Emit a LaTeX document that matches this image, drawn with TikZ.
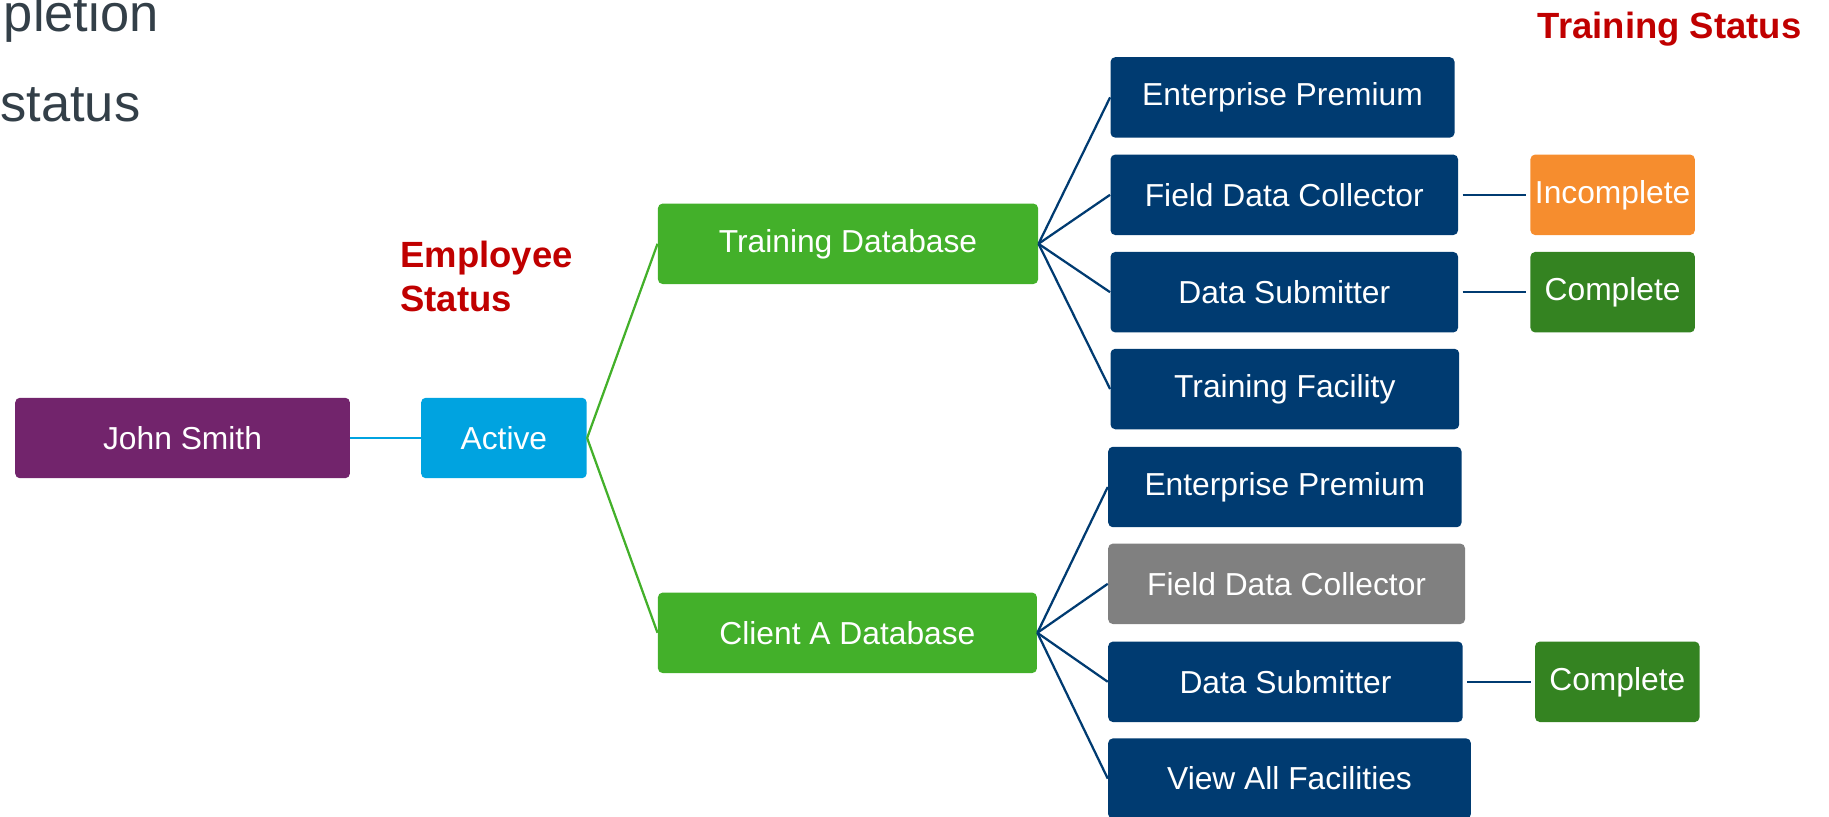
\documentclass[tikz,border=0pt]{standalone}
\usepackage{fontspec}
\setmainfont{Liberation Sans}
\definecolor{navy}{RGB}{0,59,113}
\definecolor{cyanbox}{RGB}{0,163,224}
\definecolor{plum}{RGB}{114,36,108}
\definecolor{leaf}{RGB}{67,176,42}
\definecolor{darkleaf}{RGB}{52,131,33}
\definecolor{amber}{RGB}{246,141,46}
\definecolor{greybox}{RGB}{128,128,128}
\definecolor{headred}{RGB}{192,0,0}
\definecolor{slate}{RGB}{51,63,72}

\begin{document}
\begin{tikzpicture}[x=0.02cm,y=-0.02cm,
    box/.style={rounded corners=2.3pt,inner sep=0pt,minimum height=1.38cm,
      text=white,font=\fontsize{15.5}{18}\selectfont},
    head/.style={text=headred,font=\fontsize{17.8}{21.6}\selectfont\bfseries,inner sep=0pt},
    link/.style={line width=1.1pt}]
  \useasboundingbox (0,0) rectangle (1568,700);
  % cut-off title lines
  \node[anchor=base west,inner sep=0pt,text=slate,font=\fontsize{25.6}{30}\selectfont] (ttl1) at (3,27) {pletion};
  \node[anchor=base west,inner sep=0pt,text=slate,font=\fontsize{25.6}{30}\selectfont] (ttl2) at (0,104) {status};
  % headings
  \node[head,anchor=north west,align=left] (emp) at (343,206) {Employee\\Status};
  \node[head,anchor=base west] (trs) at (1318,33) {Training Status};
  % employee
  \node[box,fill=plum,minimum width=5.74cm] (john) at (156.5,375.5) {John Smith};
  \node[box,fill=cyanbox,minimum width=2.84cm] (active) at (432,375.5) {Active};
  % databases
  \node[box,fill=leaf,minimum width=6.52cm] (tdb) at (727,209) {Training Database};
  \node[box,fill=leaf,minimum width=6.5cm] (cdb) at (726.5,542.5) {Client A Database};
  % training database roles
  \node[box,fill=navy,minimum width=5.9cm] (ep1) at (1099.5,83.5) {Enterprise Premium};
  \node[box,fill=navy,minimum width=5.96cm] (fdc1) at (1101,167) {Field Data Collector};
  \node[box,fill=navy,minimum width=5.96cm] (ds1) at (1101,250.5) {Data Submitter};
  \node[box,fill=navy,minimum width=5.98cm] (tf) at (1101.5,333.5) {Training Facility};
  \node[box,fill=amber,minimum width=2.82cm] (inc) at (1382.5,167) {Incomplete};
  \node[box,fill=darkleaf,minimum width=2.82cm] (cmp1) at (1382.5,250.5) {Complete};
  % client database roles
  \node[box,fill=navy,minimum width=6.06cm] (ep2) at (1101.5,417.5) {Enterprise Premium};
  \node[box,fill=greybox,minimum width=6.12cm] (fdc2) at (1103,500.5) {Field Data Collector};
  \node[box,fill=navy,minimum width=6.08cm] (ds2) at (1102,584.5) {Data Submitter};
  \node[box,fill=navy,minimum width=6.22cm] (vaf) at (1105.5,667.5) {View All Facilities};
  \node[box,fill=darkleaf,minimum width=2.82cm] (cmp2) at (1386.5,584.5) {Complete};
  % links
  \draw[link,cyanbox] (john) -- (active);
  \draw[link,leaf] (active.east) -- (tdb.west);
  \draw[link,leaf] (active.east) -- (cdb.west);
  \draw[link,navy] (tdb.east) -- (ep1.west);
  \draw[link,navy] (tdb.east) -- (fdc1.west);
  \draw[link,navy] (tdb.east) -- (ds1.west);
  \draw[link,navy] (tdb.east) -- (tf.west);
  \draw[link,navy] (cdb.east) -- (ep2.west);
  \draw[link,navy] (cdb.east) -- (fdc2.west);
  \draw[link,navy] (cdb.east) -- (ds2.west);
  \draw[link,navy] (cdb.east) -- (vaf.west);
  \draw[link,navy] ([xshift=2pt]fdc1.east) -- ([xshift=-2pt]inc.west);
  \draw[link,navy] ([xshift=2pt]ds1.east) -- ([xshift=-2pt]cmp1.west);
  \draw[link,navy] ([xshift=2pt]ds2.east) -- ([xshift=-2pt]cmp2.west);
\end{tikzpicture}
\end{document}
